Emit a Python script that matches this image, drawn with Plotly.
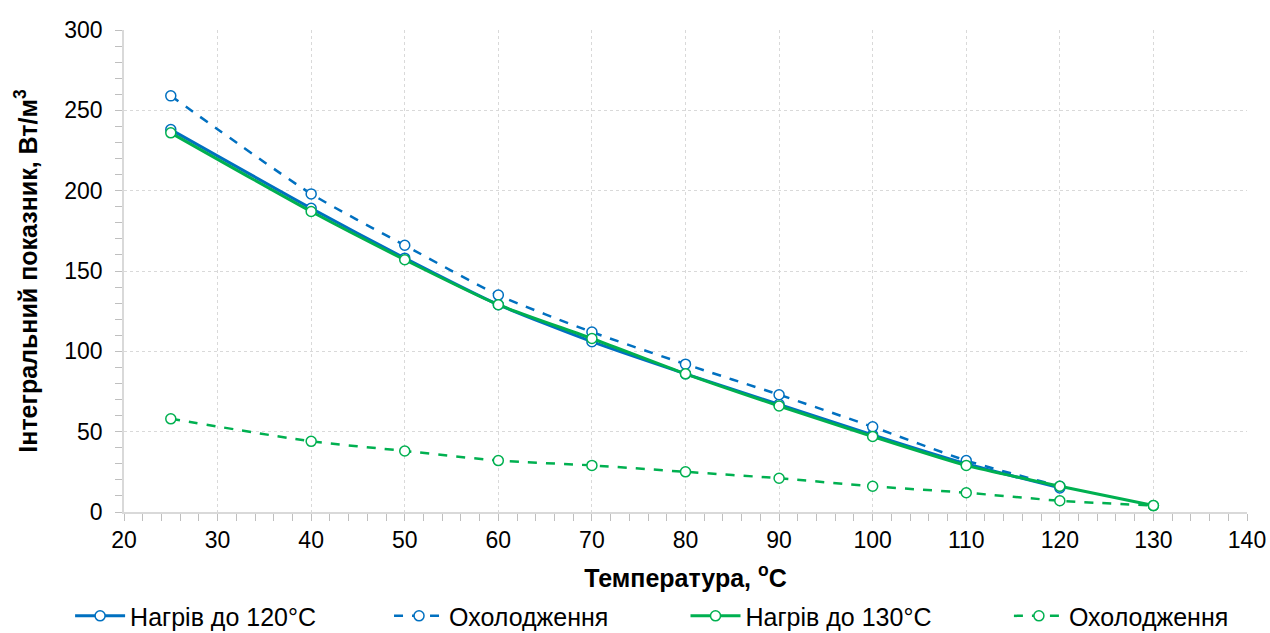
import plotly.graph_objects as go

# Температура, °C
t_120 = [25, 40, 50, 60, 70, 80, 90, 100, 110, 120]
t_130 = [25, 40, 50, 60, 70, 80, 90, 100, 110, 120, 130]

# Інтегральний показник, Вт/м³
heat_120 = [238, 189, 158, 129, 106, 86, 67, 48, 30, 15]
cool_120 = [259, 198, 166, 135, 112, 92, 73, 53, 32, 16]
heat_130 = [236, 187, 157, 129, 108, 86, 66, 47, 29, 16, 4]
cool_130 = [58, 44, 38, 32, 29, 25, 21, 16, 12, 7, 4]

BLUE = "#0070C0"
GREEN = "#00B050"
FONT = "Liberation Sans, Arial, sans-serif"

# name, x, y, colour, dash, width, legend id, legend x (paper)
series = [
    ("Нагрів до 120°C", t_120, heat_120, BLUE, "solid", 3, "legend", -0.048),
    ("Охолодження", t_120, cool_120, BLUE, "dash", 2.5, "legend2", 0.236),
    ("Нагрів до 130°C", t_130, heat_130, GREEN, "solid", 3, "legend3", 0.5),
    ("Охолодження", t_130, cool_130, GREEN, "dash", 2.5, "legend4", 0.788),
]

fig = go.Figure()
legends = {}
for name, x, y, color, dash, width, leg, lx in series:
    fig.add_trace(go.Scatter(
        x=x, y=y, name=name, mode="lines+markers", legend=leg,
        line=dict(color=color, width=width, dash=dash, shape="spline", smoothing=0.6),
        marker=dict(symbol="circle", size=10, color="white",
                    line=dict(color=color, width=1.5)),
    ))
    legends[leg] = dict(orientation="h", x=lx, xanchor="left", y=-0.216, yanchor="middle",
                        font=dict(family=FONT, size=25, color="#000000"),
                        itemwidth=50, bgcolor="rgba(0,0,0,0)")

fig.update_layout(
    width=1270, height=633,
    margin=dict(l=124, r=23, t=30, b=121, autoexpand=False),
    paper_bgcolor="white", plot_bgcolor="white",
    font=dict(family=FONT, size=23, color="#000000"),
    showlegend=True,
    **legends,
)

fig.update_xaxes(
    range=[20, 140], dtick=10, tick0=20,
    showgrid=True, gridcolor="#D9D9D9", griddash="dot", gridwidth=1,
    showline=True, linecolor="#D9D9D9", linewidth=1.5,
    ticks="outside", ticklen=7, tickcolor="#BFBFBF",
    minor=dict(dtick=2, ticks="outside", ticklen=7, tickcolor="#BFBFBF", showgrid=False),
    zeroline=False, automargin=False,
    title=dict(text="<b>Температура, <sup>о</sup>С</b>", font=dict(size=25), standoff=17),
)
fig.update_yaxes(
    range=[0, 300], dtick=50,
    showgrid=True, gridcolor="#D9D9D9", griddash="dot", gridwidth=1,
    showline=True, linecolor="#D9D9D9", linewidth=1.5,
    ticks="outside", ticklen=7, tickcolor="#BFBFBF", ticklabelstandoff=8,
    minor=dict(dtick=10, ticks="outside", ticklen=7, tickcolor="#BFBFBF", showgrid=False),
    zeroline=False, automargin=False,
    title=dict(text="<b>Інтегральний показник, Вт/м<sup>3</sup></b>", font=dict(size=25), standoff=20),
)

fig.write_html("out.html")
